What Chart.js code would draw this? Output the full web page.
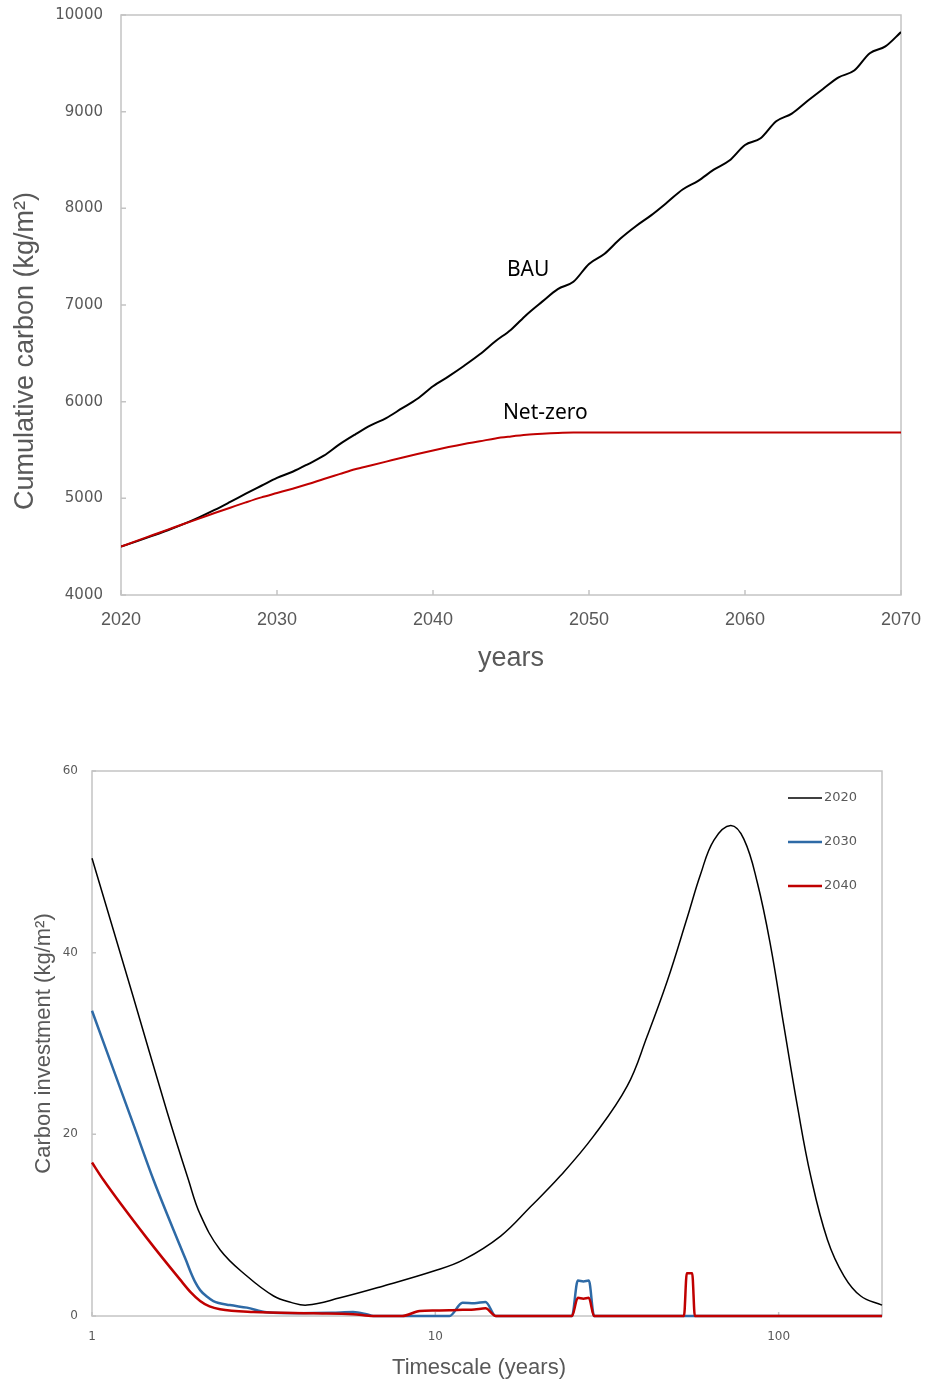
<!DOCTYPE html>
<html>
<head>
<meta charset="utf-8">
<script src="https://cdn.jsdelivr.net/npm/chart.js@4.4.1/dist/chart.umd.min.js"></script>
<style>
  html, body { margin: 0; padding: 0; background: #ffffff; }
  #page { position: relative; width: 925px; height: 1382px; overflow: hidden; }
  #topBox { position: absolute; left: 0; top: 0; width: 925px; height: 700px; }
  #bottomBox { position: absolute; left: 0; top: 700px; width: 925px; height: 682px; }
  canvas { display: block; }
</style>
</head>
<body>
<div id="page">
  <div id="topBox"><canvas id="cumulative" width="925" height="700"></canvas></div>
  <div id="bottomBox"><canvas id="investment" width="925" height="682"></canvas></div>
</div>
<script>
// ---- Cumulative carbon, business-as-usual vs net-zero (kg/m²) ----
const years = [
  2020, 2021, 2022, 2023, 2024, 2025, 2026, 2027, 2028, 2029,
  2030, 2031, 2032, 2033, 2034, 2035, 2036, 2037, 2038, 2039,
  2040, 2041, 2042, 2043, 2044, 2045, 2046, 2047, 2048, 2049,
  2050, 2051, 2052, 2053, 2054, 2055, 2056, 2057, 2058, 2059,
  2060, 2061, 2062, 2063, 2064, 2065, 2066, 2067, 2068, 2069, 2070
];
const bauCarbon = [
  4500, 4555, 4612, 4670, 4733, 4803, 4880, 4963, 5048, 5130,
  5212, 5275, 5355, 5441, 5558, 5660, 5755, 5830, 5930, 6030,
  6160, 6262, 6372, 6490, 6625, 6745, 6900, 7035, 7165, 7240,
  7425, 7530, 7685, 7815, 7930, 8060, 8195, 8285, 8400, 8494,
  8655, 8725, 8900, 8980, 9110, 9235, 9355, 9425, 9605, 9675, 9823
];
const netZeroCarbon = [
  4500, 4560, 4618, 4676, 4734, 4790, 4848, 4903, 4958, 5010,
  5055, 5100, 5148, 5200, 5250, 5300, 5340, 5380, 5420, 5458,
  5495, 5530, 5562, 5590, 5620, 5640, 5657, 5668, 5676, 5680,
  5680, 5680, 5680, 5680, 5680, 5680, 5680, 5680, 5680, 5680,
  5680, 5680, 5680, 5680, 5680, 5680, 5680, 5680, 5680, 5680, 5680
];
const yearTicks = [2020, 2030, 2040, 2050, 2060, 2070];
const carbonTicks = [4000, 5000, 6000, 7000, 8000, 9000, 10000];
// where the two scenario names sit, in data units
const bauNameAt = { x: 2046.1, y: 7364 };
const netZeroNameAt = { x: 2047.2, y: 5884 };

// ---- Carbon investment by timescale (kg/m²), three start years ----
const timescale2020 = [1, 1.317, 1.651, 1.909, 2.065, 2.36, 2.825, 3.38, 3.8, 4.23, 5.28, 6.91, 10, 12.1, 15.5, 18.9, 23.1, 28.9, 36.2, 41.4, 47.4, 54.2, 59.2, 64.8, 72.5, 79.2, 86.7, 94.8, 103.6, 113.4, 124, 138.7, 155, 173.4, 200];
const invest2020 = [50.4, 35.2, 22.6, 15.0, 11.2, 7.3, 4.4, 2.2, 1.5, 1.2, 2.0, 3.2, 5.0, 6.2, 8.8, 12.0, 15.4, 19.8, 25.3, 30.8, 36.9, 43.9, 48.6, 52.4, 54.0, 52.5, 47.7, 40.7, 31.9, 23.1, 15.4, 8.4, 4.4, 2.2, 1.2];
const timescale2030 = [1, 1.317, 1.51, 1.806, 1.88, 1.94, 2.0, 2.065, 2.16, 2.257, 2.52, 2.825, 3.23, 4, 5, 5.76, 6.3, 6.6, 11, 12, 13, 14, 15, 25, 26, 27, 28, 29, 200];
const invest2030 = [33.6, 21.2, 15.0, 7.7, 6.1, 4.8, 3.7, 2.85, 2.15, 1.65, 1.2, 0.92, 0.4, 0.3, 0.35, 0.44, 0.2, 0, 0, 1.45, 1.4, 1.55, 0, 0, 3.9, 3.8, 3.9, 0, 0];
const timescale2040 = [1, 1.079, 1.443, 1.806, 1.94, 2.065, 2.2, 2.36, 2.95, 4.41, 5.76, 6.6, 8, 9, 10, 11, 12, 13, 14, 15, 25, 26, 27, 28, 29, 53, 54, 55, 56, 57, 200];
const invest2040 = [16.9, 15.0, 8.6, 4.0, 2.6, 1.65, 1.05, 0.74, 0.44, 0.3, 0.2, 0, 0, 0.55, 0.6, 0.62, 0.68, 0.72, 0.85, 0, 0, 2.0, 1.9, 2.0, 0, 0, 4.7, 4.7, 4.7, 0, 0];
const timescaleTicks = [1, 10, 100];
const investTicks = [0, 20, 40, 60];

const GREY_TEXT = '#595959';
const FRAME = '#c4c4c4';

function points(xs, ys) {
  return xs.map((x, i) => ({ x: x, y: ys[i] }));
}

// fixed axis box sizes; label overhang is handled by the layout padding
function fixedBox(size) {
  return s => {
    if (s.isHorizontal()) s.height = size; else s.width = size;
    s.paddingTop = 0; s.paddingBottom = 0; s.paddingLeft = 0; s.paddingRight = 0;
  };
}

// plot frame plus short inward tick marks
function frameAndTicks(tickLen) {
  return {
    id: 'frameAndTicks',
    beforeDatasetsDraw(chart) {
      const { ctx, chartArea: a, scales: { x, y } } = chart;
      ctx.save();
      ctx.strokeStyle = FRAME;
      ctx.lineWidth = 1.5;
      ctx.strokeRect(a.left, a.top, a.right - a.left, a.bottom - a.top);
      ctx.beginPath();
      x.ticks.forEach(t => {
        const p = x.getPixelForValue(t.value);
        ctx.moveTo(p, a.bottom);
        ctx.lineTo(p, a.bottom - tickLen);
      });
      y.ticks.forEach(t => {
        const p = y.getPixelForValue(t.value);
        ctx.moveTo(a.left, p);
        ctx.lineTo(a.left + tickLen, p);
      });
      ctx.stroke();
      ctx.restore();
    }
  };
}

// free text: axis titles and in-plot names
function captions(items) {
  return {
    id: 'captions',
    afterDraw(chart) {
      const ctx = chart.ctx;
      items.forEach(it => {
        const pos = it.at(chart);
        ctx.save();
        ctx.font = it.font;
        ctx.fillStyle = it.color;
        ctx.textAlign = 'center';
        ctx.textBaseline = 'middle';
        ctx.translate(pos.x, pos.y);
        if (it.rotate) ctx.rotate(it.rotate);
        ctx.fillText(it.text, 0, 0);
        ctx.restore();
      });
    }
  };
}

// legend in the upper right of the plot
const seriesKey = {
  id: 'seriesKey',
  afterDatasetsDraw(chart) {
    const { ctx, chartArea: a } = chart;
    chart.data.datasets.forEach((ds, i) => {
      const yy = a.top + 27 + i * 44;
      ctx.save();
      ctx.strokeStyle = ds.borderColor;
      ctx.lineWidth = ds.borderWidth;
      ctx.beginPath();
      ctx.moveTo(a.right - 94, yy);
      ctx.lineTo(a.right - 60, yy);
      ctx.stroke();
      ctx.font = '13px "DejaVu Sans"';
      ctx.fillStyle = GREY_TEXT;
      ctx.textAlign = 'left';
      ctx.textBaseline = 'middle';
      ctx.fillText(ds.label, a.right - 58, yy);
      ctx.restore();
    });
  }
};

const noGrid = { display: false, drawTicks: false };
const noBorder = { display: false };

// ---------- upper chart ----------
new Chart(document.getElementById('cumulative'), {
  type: 'line',
  data: {
    datasets: [
      {
        label: 'Net-zero',
        data: points(years, netZeroCarbon),
        borderColor: '#c00000',
        borderWidth: 2,
        pointRadius: 0,
        cubicInterpolationMode: 'monotone',
        order: 0
      },
      {
        label: 'BAU',
        data: points(years, bauCarbon),
        borderColor: '#000000',
        borderWidth: 2,
        pointRadius: 0,
        cubicInterpolationMode: 'monotone',
        order: 1
      }
    ]
  },
  options: {
    responsive: false,
    animation: false,
    layout: { padding: { top: 15, right: 24, left: 0, bottom: 0 } },
    plugins: { legend: { display: false }, tooltip: { enabled: false } },
    scales: {
      x: {
        type: 'linear',
        min: 2020,
        max: 2070,
        grid: noGrid,
        border: noBorder,
        afterBuildTicks: s => { s.ticks = yearTicks.map(v => ({ value: v })); },
        afterFit: fixedBox(105),
        ticks: {
          padding: 14,
          color: GREY_TEXT,
          font: { family: '"Liberation Sans"', size: 18 },
          callback: v => String(v)
        }
      },
      y: {
        min: 4000,
        max: 10000,
        grid: noGrid,
        border: noBorder,
        afterBuildTicks: s => { s.ticks = carbonTicks.map(v => ({ value: v })); },
        afterFit: fixedBox(121),
        ticks: {
          padding: 18,
          color: GREY_TEXT,
          font: { family: '"DejaVu Sans"', size: 15 },
          callback: v => String(v)
        }
      }
    }
  },
  plugins: [
    frameAndTicks(5),
    captions([
      { text: 'years', font: '27px "Liberation Sans"', color: GREY_TEXT,
        at: c => ({ x: (c.chartArea.left + c.chartArea.right) / 2, y: 659 }) },
      { text: 'Cumulative carbon (kg/m²)', font: '27px "Liberation Sans"', color: GREY_TEXT, rotate: -Math.PI / 2,
        at: () => ({ x: 26, y: 351 }) },
      { text: 'BAU', font: '21px "Noto Sans"', color: '#000000',
        at: c => ({ x: c.scales.x.getPixelForValue(bauNameAt.x), y: c.scales.y.getPixelForValue(bauNameAt.y) }) },
      { text: 'Net-zero', font: '21px "Noto Sans"', color: '#000000',
        at: c => ({ x: c.scales.x.getPixelForValue(netZeroNameAt.x), y: c.scales.y.getPixelForValue(netZeroNameAt.y) }) }
    ])
  ]
});

// ---------- lower chart ----------
new Chart(document.getElementById('investment'), {
  type: 'line',
  data: {
    datasets: [
      {
        label: '2020',
        data: points(timescale2020, invest2020),
        borderColor: '#000000',
        borderWidth: 1.5,
        pointRadius: 0,
        tension: 0.4,
        clip: 4,
        order: 2
      },
      {
        label: '2030',
        data: points(timescale2030, invest2030),
        borderColor: '#2e6aa6',
        borderWidth: 2.5,
        pointRadius: 0,
        cubicInterpolationMode: 'monotone',
        clip: 4,
        order: 1
      },
      {
        label: '2040',
        data: points(timescale2040, invest2040),
        borderColor: '#c00000',
        borderWidth: 2.5,
        pointRadius: 0,
        cubicInterpolationMode: 'monotone',
        clip: 4,
        order: 0
      }
    ]
  },
  options: {
    responsive: false,
    animation: false,
    layout: { padding: { top: 71, right: 43, left: 0, bottom: 0 } },
    plugins: { legend: { display: false }, tooltip: { enabled: false } },
    scales: {
      x: {
        type: 'logarithmic',
        min: 1,
        max: 200,
        grid: noGrid,
        border: noBorder,
        afterBuildTicks: s => { s.ticks = timescaleTicks.map(v => ({ value: v })); },
        afterFit: fixedBox(66),
        ticks: {
          padding: 14,
          color: GREY_TEXT,
          font: { family: '"DejaVu Sans"', size: 12 },
          callback: v => String(v)
        }
      },
      y: {
        min: 0,
        max: 60,
        grid: noGrid,
        border: noBorder,
        afterBuildTicks: s => { s.ticks = investTicks.map(v => ({ value: v })); },
        afterFit: fixedBox(92),
        ticks: {
          padding: 14,
          color: GREY_TEXT,
          font: { family: '"DejaVu Sans"', size: 12 },
          callback: v => String(v)
        }
      }
    }
  },
  plugins: [
    frameAndTicks(4),
    seriesKey,
    captions([
      { text: 'Timescale (years)', font: '22px "Liberation Sans"', color: GREY_TEXT,
        at: () => ({ x: 479, y: 668 }) },
      { text: 'Carbon investment (kg/m²)', font: '22px "Liberation Sans"', color: GREY_TEXT, rotate: -Math.PI / 2,
        at: c => ({ x: 44, y: (c.chartArea.top + c.chartArea.bottom) / 2 }) }
    ])
  ]
});
</script>
</body>
</html>
